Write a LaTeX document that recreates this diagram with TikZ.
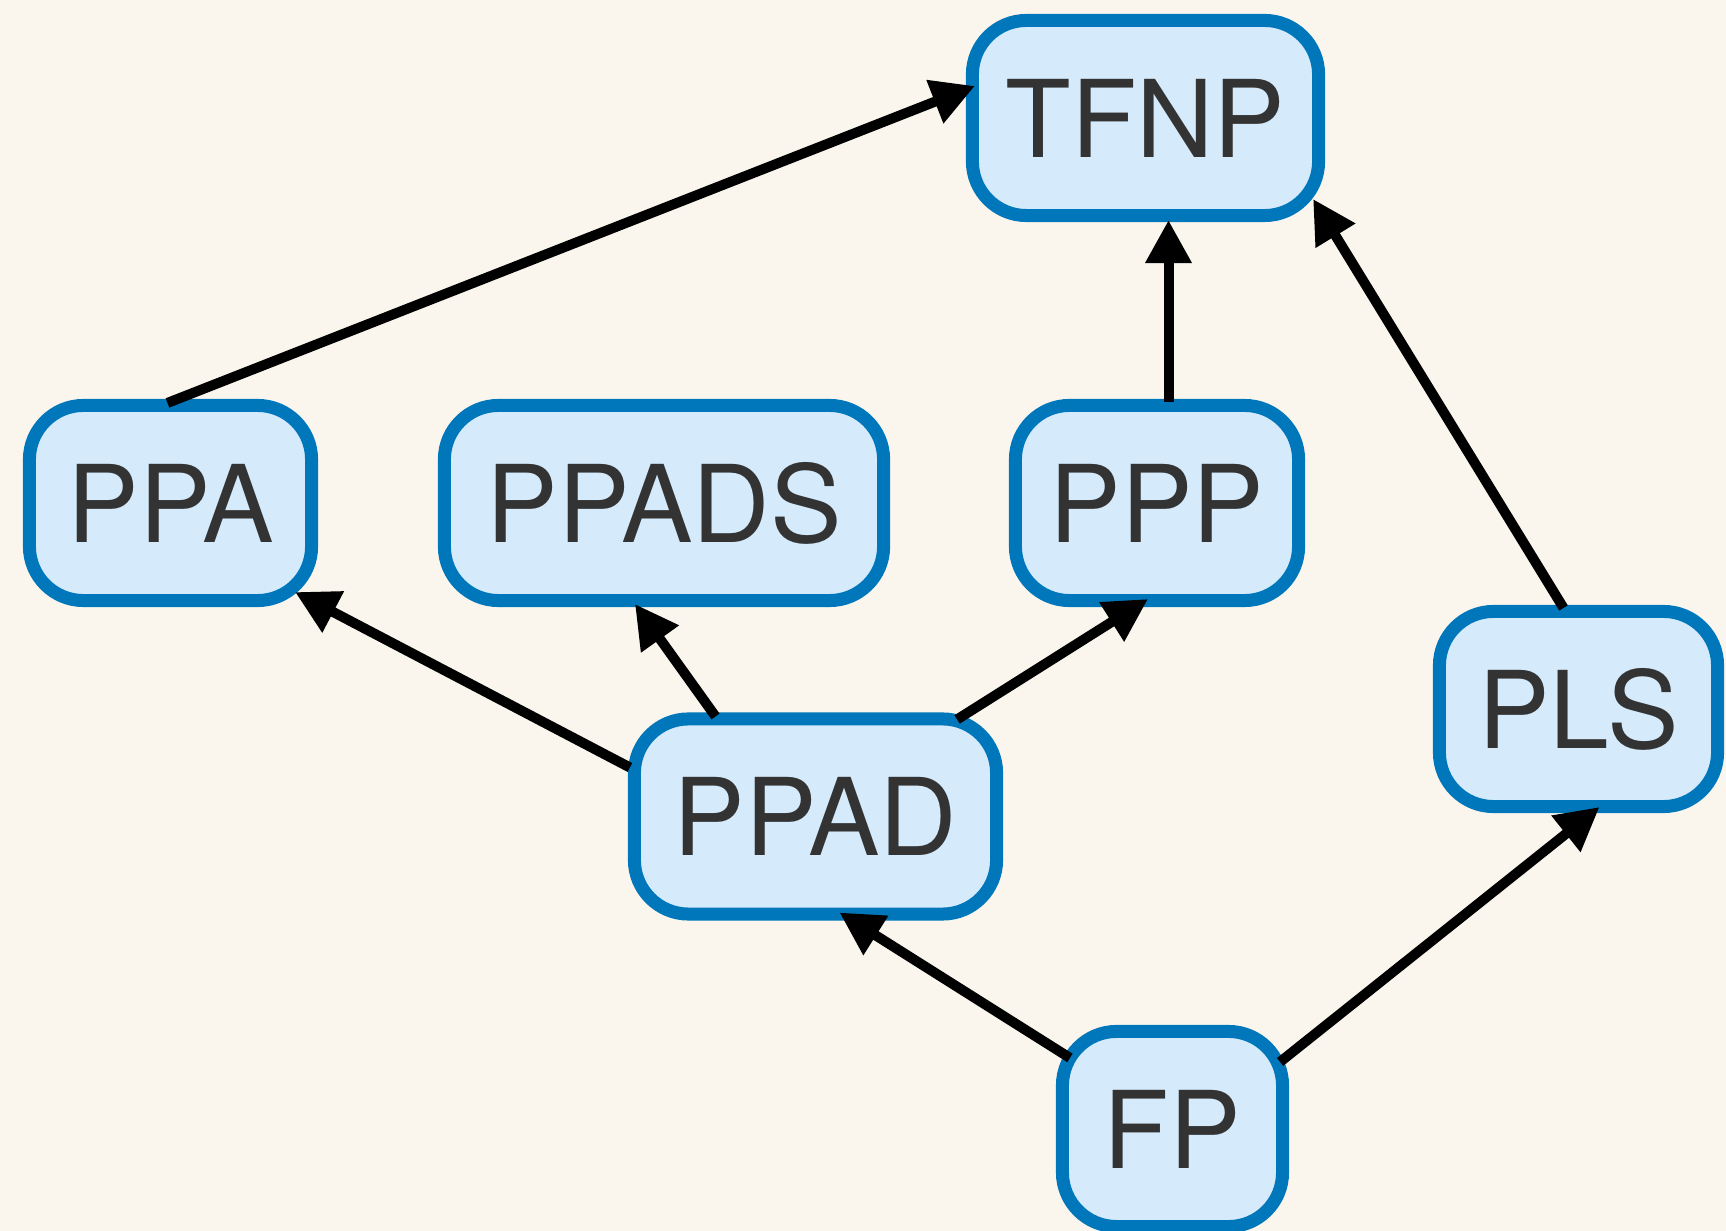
\documentclass[tikz,border=0pt]{standalone}
\usepackage{fontspec}
\setmainfont{TeX Gyre Heros}
\usetikzlibrary{arrows.meta}
\definecolor{classBg}{RGB}{250,246,238}
\definecolor{classFill}{RGB}{213,235,252}
\definecolor{classLine}{RGB}{0,119,187}
\definecolor{classText}{RGB}{51,51,51}

\begin{document}
\begin{tikzpicture}[x=0.01cm, y=-0.01cm,
    cls/.style={rectangle, rounded corners=0.54cm, draw=classLine, fill=classFill,
                line width=0.13cm, minimum height=1.95cm, inner sep=0pt,
                text=classText, font=\fontsize{30.5}{36}\selectfont},
    reduce/.style={-{Triangle[length=0.43cm, width=0.44cm]}, line width=0.1cm, black}
  ]
  \useasboundingbox (0,0) rectangle (1726,1231);
  \fill[classBg] (0,0) rectangle (1726,1231);
  \clip (0,0) rectangle (1726,1231);

  % complexity classes
  \node[cls, minimum width=3.46cm] (tfnp)  at (1145.5,118)  {TFNP};
  \node[cls, minimum width=2.82cm] (ppa)   at (170.5,503)   {PPA};
  \node[cls, minimum width=4.39cm] (ppads) at (664,503)     {PPADS};
  \node[cls, minimum width=2.83cm] (ppp)   at (1157,503)    {PPP};
  \node[cls, minimum width=2.78cm] (pls)   at (1578.5,709)  {PLS};
  \node[cls, minimum width=3.62cm] (ppad)  at (815.5,816.5) {PPAD};
  \node[cls, minimum width=2.20cm] (fp)    at (1172.5,1129) {FP};

  % inclusions
  \draw[reduce] ([shift={(-3,4)}]ppa.north)    -- ([shift={(9,-32)}]tfnp.west);
  \draw[reduce] ([shift={(11.5,3)}]ppp.north)  -- ([shift={(23,-2)}]tfnp.south);
  \draw[reduce] ([shift={(-15,3)}]pls.north)   -- ([shift={(-12,-23)}]tfnp.south east);
  \draw[reduce] ([shift={(2,-49)}]ppad.west)   -- ([shift={(-23,-15)}]ppa.south east);
  \draw[reduce] ([shift={(-100,4)}]ppad.north) -- ([shift={(-29,-3)}]ppads.south);
  \draw[reduce] ([shift={(-46,7)}]ppad.north east) -- ([shift={(-9,-8)}]ppp.south);
  \draw[reduce] ([shift={(14,33)}]fp.north west)   -- ([shift={(24,-8)}]ppad.south);
  \draw[reduce] ([shift={(-9,37)}]fp.north east)   -- ([shift={(21,-6)}]pls.south);
\end{tikzpicture}
\end{document}
